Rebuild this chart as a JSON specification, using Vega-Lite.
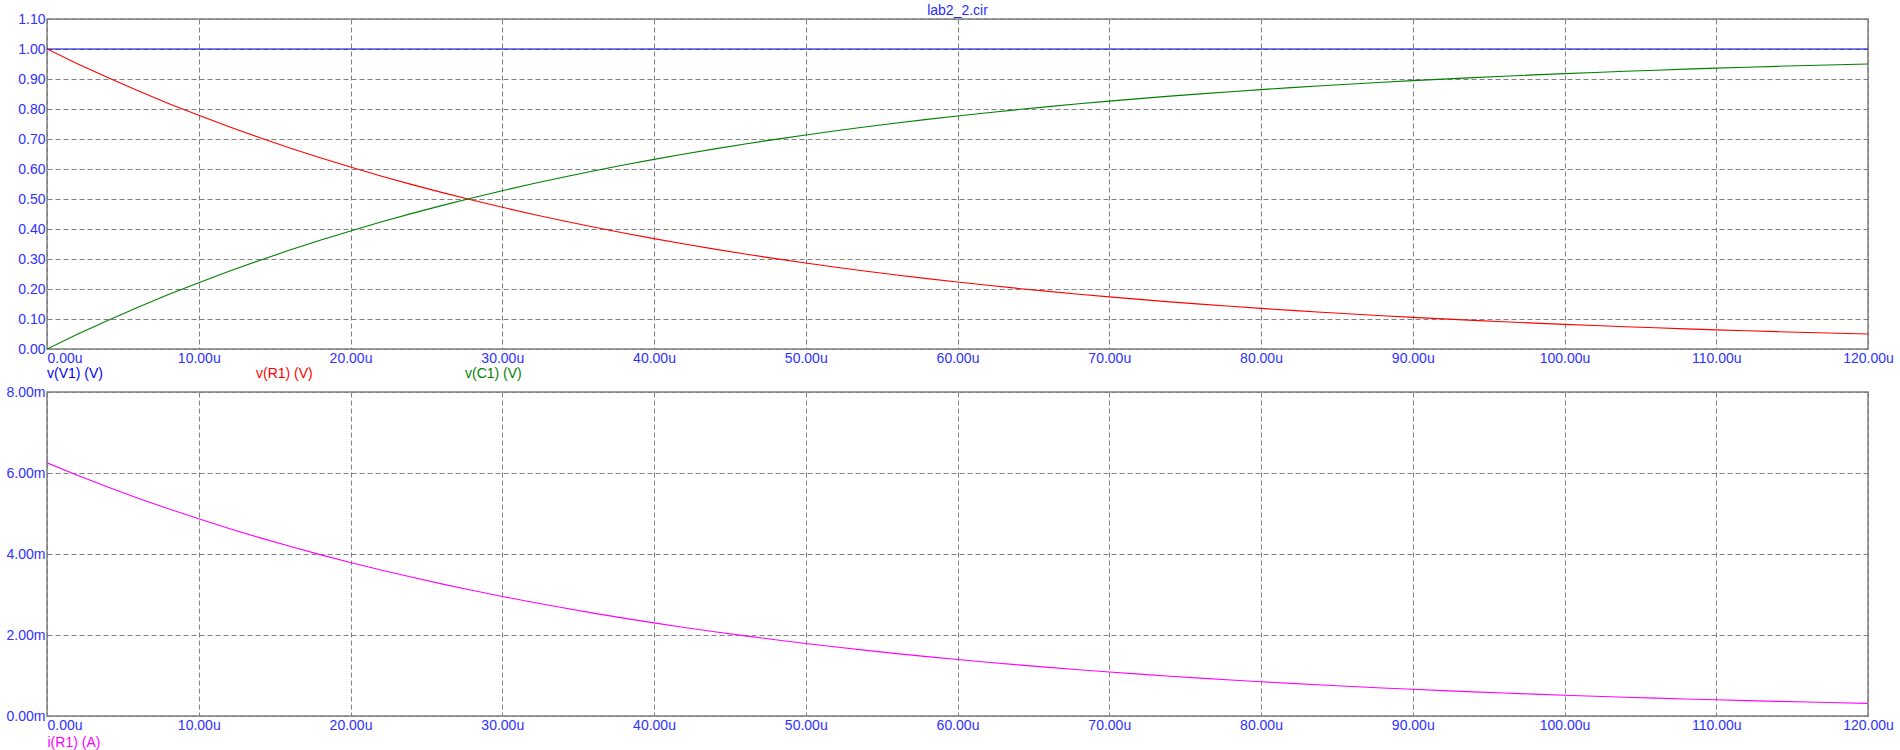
{
  "$schema": "https://vega.github.io/schema/vega-lite/v6.json",
  "padding": {"left": 5, "top": 3, "right": 0, "bottom": 0},
  "background": "white",
  "spacing": 2,
  "resolve": {"legend": {"color": "independent"}, "scale": {"color": "independent"}},
  "config": {
    "font": "Liberation Sans",
    "view": {"stroke": "#808080", "strokeWidth": 1.5},
    "axis": {
      "domain": false, "ticks": false, "grid": true,
      "gridColor": "#808080", "gridDash": [5, 3], "gridWidth": 1, "gridOpacity": 1,
      "labelFont": "Liberation Sans", "labelFontSize": 14, "labelColor": "#3030ff",
      "labelPadding": 2, "title": null
    }
  },
  "data": {"values": [
    {"t":0,"v1":1,"vr":1.0,"vc":0.0,"i":6.250},
    {"t":2,"v1":1,"vr":0.9512,"vc":0.0488,"i":5.945},
    {"t":4,"v1":1,"vr":0.9048,"vc":0.0952,"i":5.655},
    {"t":6,"v1":1,"vr":0.8607,"vc":0.1393,"i":5.379},
    {"t":8,"v1":1,"vr":0.8187,"vc":0.1813,"i":5.117},
    {"t":10,"v1":1,"vr":0.7788,"vc":0.2212,"i":4.868},
    {"t":12,"v1":1,"vr":0.7408,"vc":0.2592,"i":4.630},
    {"t":14,"v1":1,"vr":0.7047,"vc":0.2953,"i":4.404},
    {"t":16,"v1":1,"vr":0.6703,"vc":0.3297,"i":4.190},
    {"t":18,"v1":1,"vr":0.6376,"vc":0.3624,"i":3.985},
    {"t":20,"v1":1,"vr":0.6065,"vc":0.3935,"i":3.791},
    {"t":22,"v1":1,"vr":0.5769,"vc":0.4231,"i":3.606},
    {"t":24,"v1":1,"vr":0.5488,"vc":0.4512,"i":3.430},
    {"t":26,"v1":1,"vr":0.5220,"vc":0.4780,"i":3.263},
    {"t":28,"v1":1,"vr":0.4966,"vc":0.5034,"i":3.104},
    {"t":30,"v1":1,"vr":0.4724,"vc":0.5276,"i":2.952},
    {"t":32,"v1":1,"vr":0.4493,"vc":0.5507,"i":2.808},
    {"t":34,"v1":1,"vr":0.4274,"vc":0.5726,"i":2.671},
    {"t":36,"v1":1,"vr":0.4066,"vc":0.5934,"i":2.541},
    {"t":38,"v1":1,"vr":0.3867,"vc":0.6133,"i":2.417},
    {"t":40,"v1":1,"vr":0.3679,"vc":0.6321,"i":2.299},
    {"t":42,"v1":1,"vr":0.3499,"vc":0.6501,"i":2.187},
    {"t":44,"v1":1,"vr":0.3329,"vc":0.6671,"i":2.080},
    {"t":46,"v1":1,"vr":0.3166,"vc":0.6834,"i":1.979},
    {"t":48,"v1":1,"vr":0.3012,"vc":0.6988,"i":1.882},
    {"t":50,"v1":1,"vr":0.2865,"vc":0.7135,"i":1.791},
    {"t":52,"v1":1,"vr":0.2725,"vc":0.7275,"i":1.703},
    {"t":54,"v1":1,"vr":0.2592,"vc":0.7408,"i":1.620},
    {"t":56,"v1":1,"vr":0.2466,"vc":0.7534,"i":1.541},
    {"t":58,"v1":1,"vr":0.2346,"vc":0.7654,"i":1.466},
    {"t":60,"v1":1,"vr":0.2231,"vc":0.7769,"i":1.395},
    {"t":62,"v1":1,"vr":0.2123,"vc":0.7877,"i":1.327},
    {"t":64,"v1":1,"vr":0.2019,"vc":0.7981,"i":1.262},
    {"t":66,"v1":1,"vr":0.1920,"vc":0.8080,"i":1.200},
    {"t":68,"v1":1,"vr":0.1827,"vc":0.8173,"i":1.142},
    {"t":70,"v1":1,"vr":0.1738,"vc":0.8262,"i":1.086},
    {"t":72,"v1":1,"vr":0.1653,"vc":0.8347,"i":1.033},
    {"t":74,"v1":1,"vr":0.1572,"vc":0.8428,"i":0.983},
    {"t":76,"v1":1,"vr":0.1496,"vc":0.8504,"i":0.935},
    {"t":78,"v1":1,"vr":0.1423,"vc":0.8577,"i":0.889},
    {"t":80,"v1":1,"vr":0.1353,"vc":0.8647,"i":0.846},
    {"t":82,"v1":1,"vr":0.1287,"vc":0.8713,"i":0.805},
    {"t":84,"v1":1,"vr":0.1225,"vc":0.8775,"i":0.765},
    {"t":86,"v1":1,"vr":0.1165,"vc":0.8835,"i":0.728},
    {"t":88,"v1":1,"vr":0.1108,"vc":0.8892,"i":0.693},
    {"t":90,"v1":1,"vr":0.1054,"vc":0.8946,"i":0.659},
    {"t":92,"v1":1,"vr":0.1003,"vc":0.8997,"i":0.627},
    {"t":94,"v1":1,"vr":0.0954,"vc":0.9046,"i":0.596},
    {"t":96,"v1":1,"vr":0.0907,"vc":0.9093,"i":0.567},
    {"t":98,"v1":1,"vr":0.0863,"vc":0.9137,"i":0.539},
    {"t":100,"v1":1,"vr":0.0821,"vc":0.9179,"i":0.513},
    {"t":102,"v1":1,"vr":0.0781,"vc":0.9219,"i":0.488},
    {"t":104,"v1":1,"vr":0.0743,"vc":0.9257,"i":0.464},
    {"t":106,"v1":1,"vr":0.0707,"vc":0.9293,"i":0.442},
    {"t":108,"v1":1,"vr":0.0672,"vc":0.9328,"i":0.420},
    {"t":110,"v1":1,"vr":0.0639,"vc":0.9361,"i":0.400},
    {"t":112,"v1":1,"vr":0.0608,"vc":0.9392,"i":0.380},
    {"t":114,"v1":1,"vr":0.0578,"vc":0.9422,"i":0.362},
    {"t":116,"v1":1,"vr":0.0550,"vc":0.9450,"i":0.344},
    {"t":118,"v1":1,"vr":0.0523,"vc":0.9477,"i":0.327},
    {"t":120,"v1":1,"vr":0.0498,"vc":0.9502,"i":0.311}
  ]},
  "vconcat": [
    {
      "width": 1821,
      "height": 330,
      "title": {"text": "lab2_2.cir", "font": "Liberation Sans", "fontSize": 14, "fontWeight": "normal", "color": "#2a2aff", "anchor": "middle", "offset": -6, "frame": "group"},
      "transform": [{"fold": ["v1", "vr", "vc"], "as": ["series", "value"]}],
      "mark": {"type": "line", "strokeWidth": 1.1, "clip": true},
      "encoding": {
        "x": {"field": "t", "type": "quantitative",
              "scale": {"domain": [0, 120], "nice": false},
              "axis": {"values": [0,10,20,30,40,50,60,70,80,90,100,110,120],
                       "labelExpr": "format(datum.value, '.2f') + 'u'",
                       "labelAlign": {"expr": "datum.value == 0 ? 'left' : 'center'"}}},
        "y": {"field": "value", "type": "quantitative",
              "scale": {"domain": [0, 1.1], "nice": false, "zero": false},
              "axis": {"values": [0,0.1,0.2,0.3,0.4,0.5,0.6,0.7,0.8,0.9,1.0,1.1],
                       "format": ".2f", "minExtent": 41, "maxExtent": 41}},
        "color": {"field": "series", "type": "nominal",
                  "scale": {"domain": ["v1", "vr", "vc"], "range": ["#0000dd", "#ff0000", "#008000"]},
                  "legend": {
                    "title": null, "orient": "bottom", "direction": "horizontal",
                    "symbolSize": 0, "symbolOpacity": 0, "symbolStrokeWidth": 0,
                    "labelFont": "Liberation Sans", "labelFontSize": 14, "labelOffset": -14,
                    "columnPadding": 152, "gridAlign": "all", "offset": 2, "padding": 0,
                    "labelExpr": "datum.label == 'v1' ? 'v(V1) (V)' : datum.label == 'vr' ? 'v(R1) (V)' : 'v(C1) (V)'",
                    "encode": {"labels": {"update": {"fill": {"signal": "datum.value == 'v1' ? '#0000ff' : datum.value == 'vr' ? '#ff0000' : '#008000'"}}}}
                  }}
      }
    },
    {
      "width": 1821,
      "height": 324,
      "mark": {"type": "line", "strokeWidth": 1.1, "color": "#ff00ff", "clip": true},
      "encoding": {
        "x": {"field": "t", "type": "quantitative",
              "scale": {"domain": [0, 120], "nice": false},
              "axis": {"values": [0,10,20,30,40,50,60,70,80,90,100,110,120],
                       "labelExpr": "format(datum.value, '.2f') + 'u'",
                       "labelAlign": {"expr": "datum.value == 0 ? 'left' : 'center'"},
                       "title": "i(R1) (A)", "titleColor": "#ff00ff", "titleFont": "Liberation Sans",
                       "titleFontSize": 14, "titleFontWeight": "normal", "titleAnchor": "start",
                       "titleAlign": "left", "titlePadding": 3}},
        "y": {"field": "i", "type": "quantitative",
              "scale": {"domain": [0, 8], "nice": false},
              "axis": {"values": [0, 2, 4, 6, 8],
                       "labelExpr": "format(datum.value, '.2f') + 'm'", "minExtent": 41, "maxExtent": 41}}
      }
    }
  ]
}
